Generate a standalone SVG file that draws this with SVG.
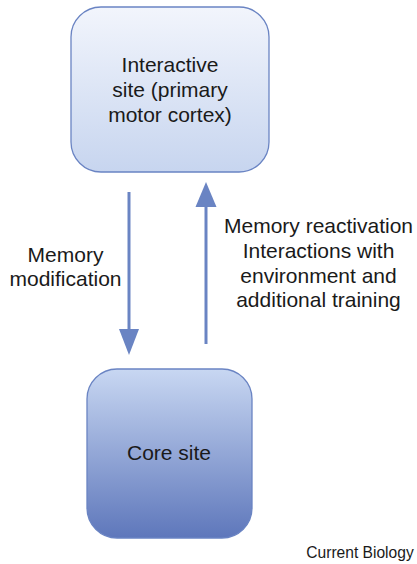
<svg xmlns="http://www.w3.org/2000/svg" width="417" height="564" viewBox="0 0 417 564">
<defs>
<linearGradient id="gTop" x1="0" y1="0" x2="0" y2="1">
<stop offset="0" stop-color="#f2f5fc"/>
<stop offset="1" stop-color="#c7d5ef"/>
</linearGradient>
<linearGradient id="gCore" x1="0" y1="0" x2="0" y2="1">
<stop offset="0" stop-color="#c8d7f2"/>
<stop offset="1" stop-color="#5e77bb"/>
</linearGradient>
<style>
.box{stroke:#6a84c3;stroke-width:1.3}
.t{font-family:"Liberation Sans",Arial,sans-serif;font-size:21px;fill:#1a1a1a;text-anchor:middle}
.conn{stroke:#6a84c3;stroke-width:3;fill:none}
.head{fill:#6a84c3}
</style>
</defs>
<g id="interactive-site">
<rect class="box" x="71" y="7" width="198" height="165" rx="30" ry="30" fill="url(#gTop)"/>
<text class="t" x="170" y="72">Interactive</text>
<text class="t" x="170" y="97">site (primary</text>
<text class="t" x="170" y="122">motor cortex)</text>
</g>
<g id="core-site">
<rect class="box" x="87" y="369" width="165" height="169" rx="30" ry="30" fill="url(#gCore)"/>
<text class="t" x="169" y="460">Core site</text>
</g>
<g id="connectors">
<line class="conn" x1="129" y1="192" x2="129" y2="332"/>
<path class="head" d="M119,329 L139,329 L129,355 Z"/>
<line class="conn" x1="206" y1="344" x2="206" y2="204"/>
<path class="head" d="M195.5,207 L216.5,207 L206,182 Z"/>
</g>
<g id="labels">
<text class="t" x="65.5" y="262">Memory</text>
<text class="t" x="65.5" y="286">modification</text>
<text class="t" x="318.5" y="233">Memory reactivation</text>
<text class="t" x="318.5" y="258">Interactions with</text>
<text class="t" x="318.5" y="283">environment and</text>
<text class="t" x="318.5" y="307">additional training</text>
<text x="360" y="558" style="font-family:'Liberation Sans',Arial,sans-serif;font-size:15.6px;fill:#1a1a1a;text-anchor:middle">Current Biology</text>
</g>
</svg>
